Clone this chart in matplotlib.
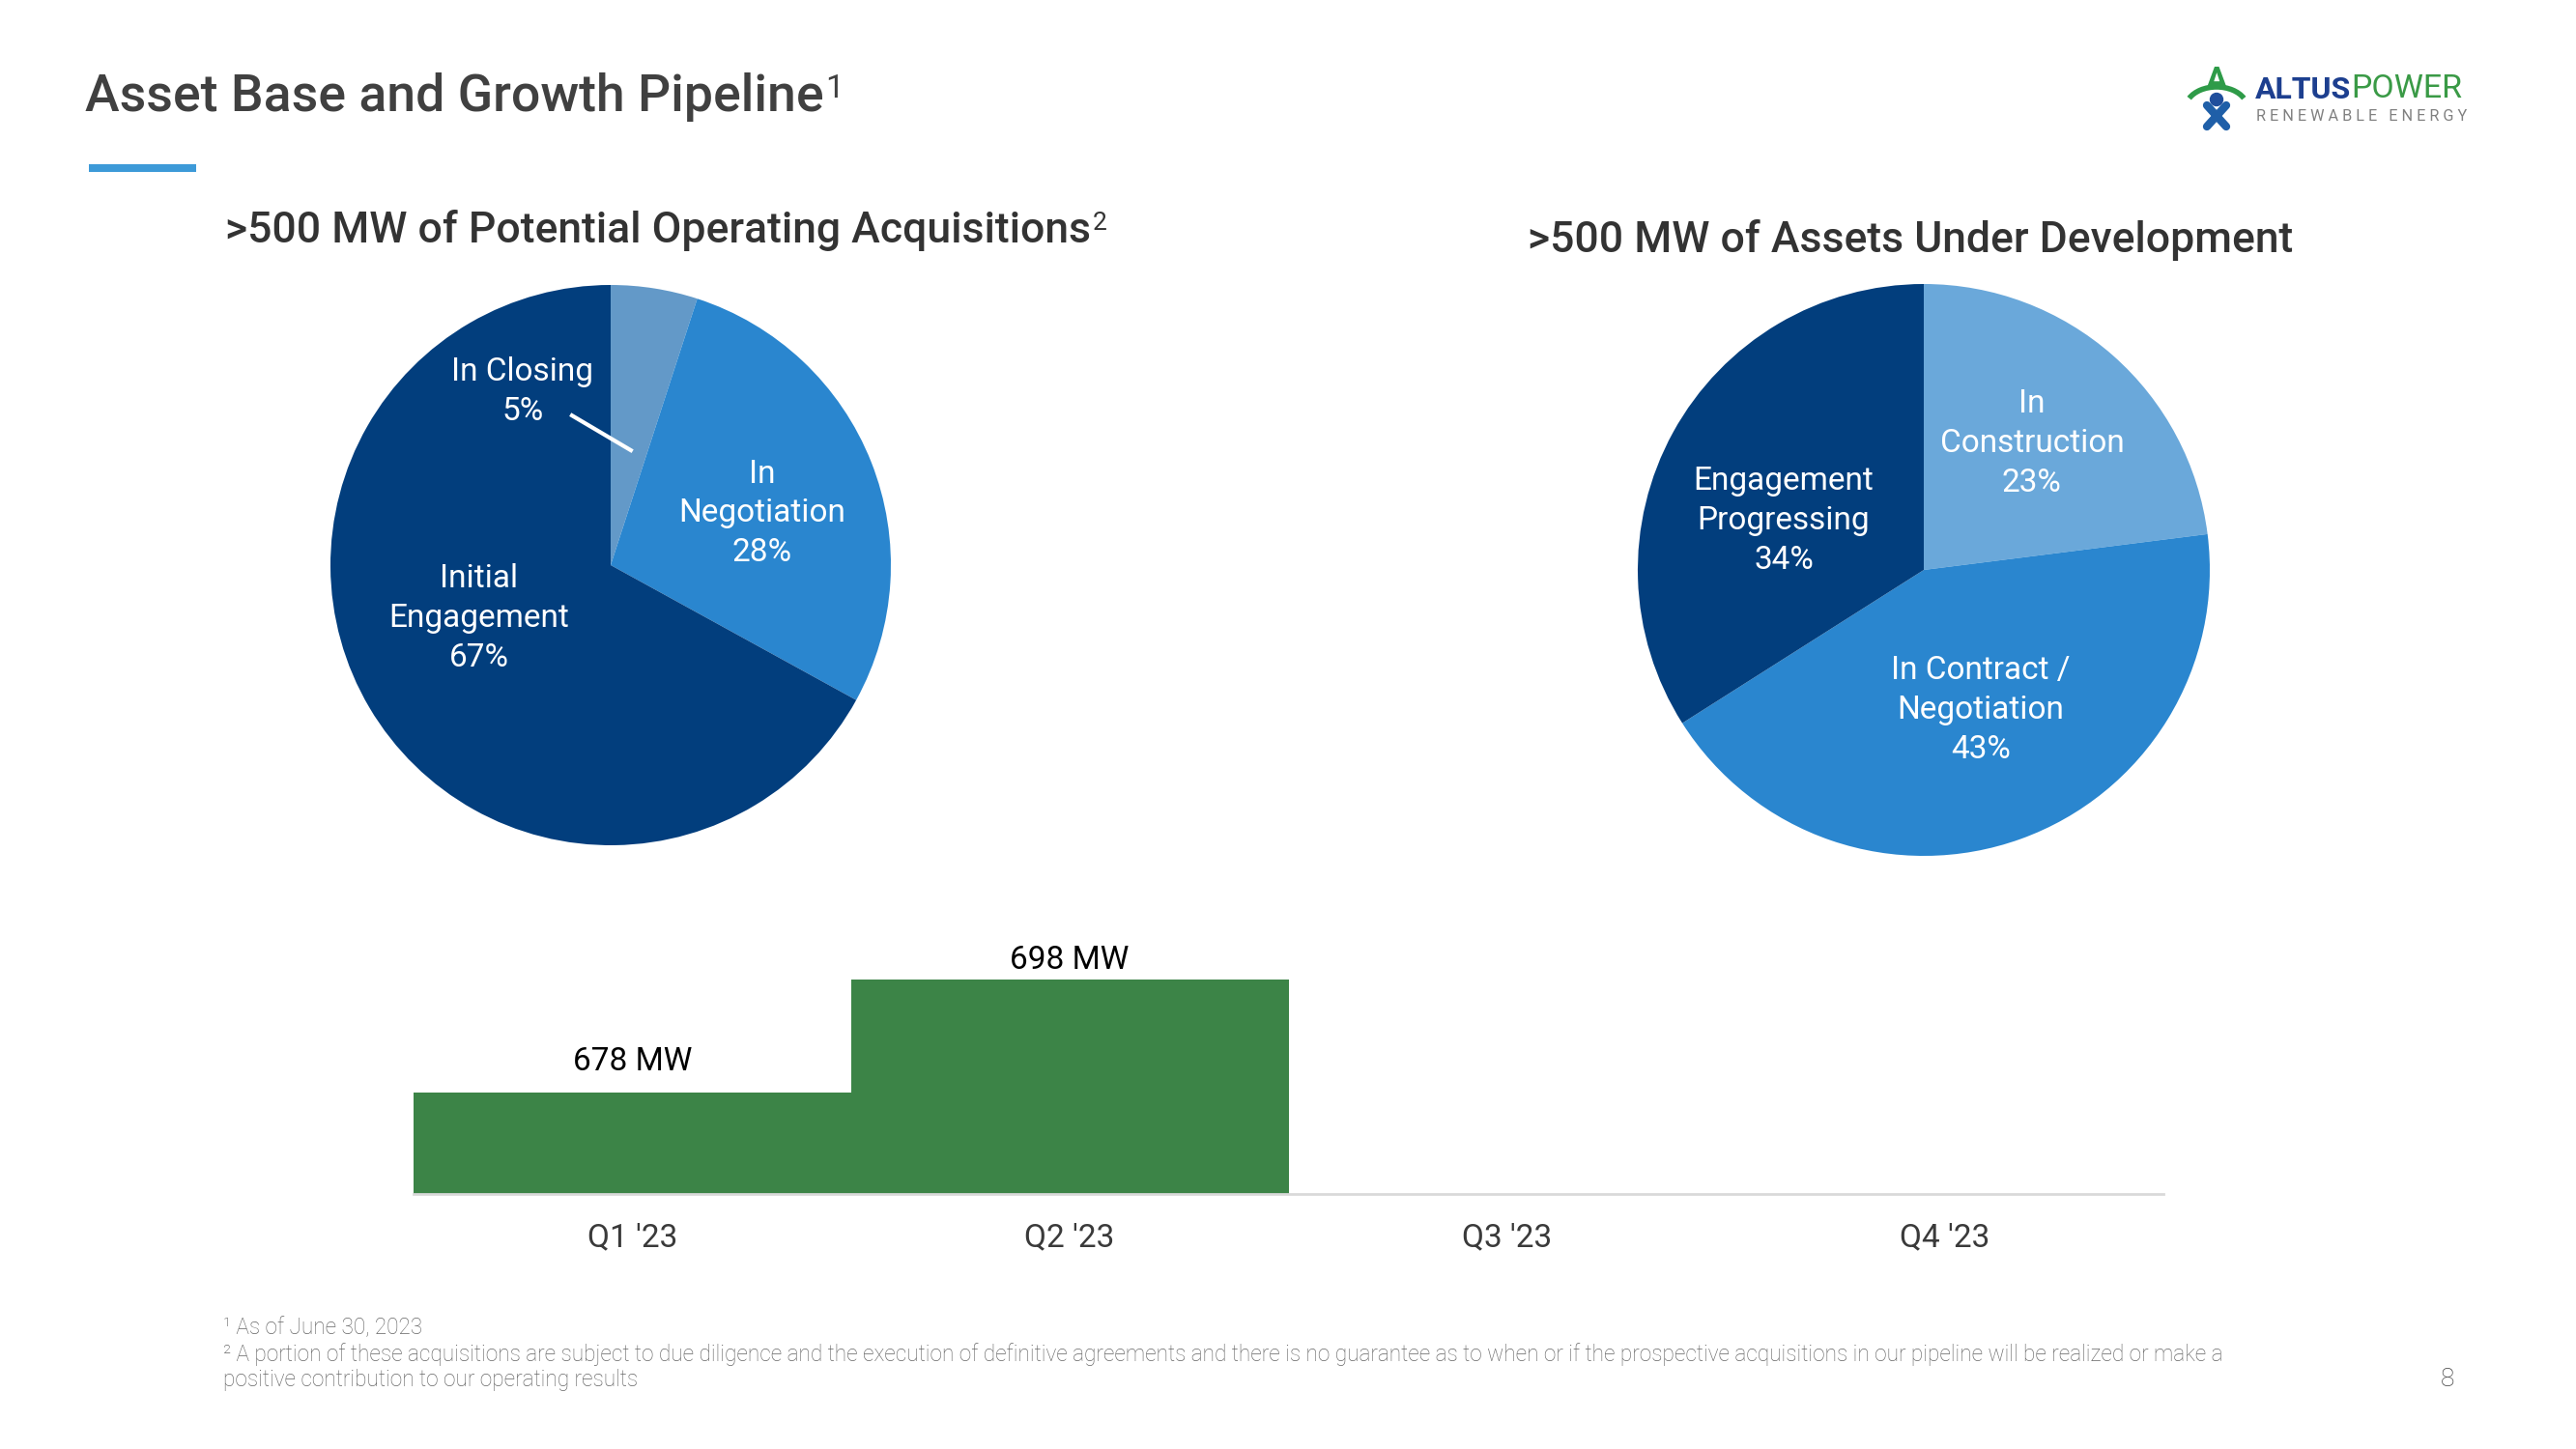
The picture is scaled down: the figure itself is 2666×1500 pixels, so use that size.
import numpy as np
import matplotlib.pyplot as plt
from matplotlib.patches import Circle, Arc, Rectangle

W, H = 2666, 1500

# data
acq_labels = ['In Closing', 'In\nNegotiation', 'Initial\nEngagement']
acq_share = [5, 28, 67]
dev_labels = ['In\nConstruction', 'In Contract /\nNegotiation', 'Engagement\nProgressing']
dev_share = [23, 43, 34]
quarters = ["Q1 '23", "Q2 '23", "Q3 '23", "Q4 '23"]
capacity_mw = [678, 698]

navy = '#023e7d'
mid = '#2a86cf'
green = '#3c8447'

plt.rcParams['font.family'] = ['Roboto', 'DejaVu Sans']

fig = plt.figure(figsize=(W / 100, H / 100), dpi=100)


def px_axes(x0, y0, x1, y1):
    # pixel box, origin top-left -> figure fractions
    return fig.add_axes([x0 / W, 1 - y1 / H, (x1 - x0) / W, (y1 - y0) / H])


def sup(txt, s, size, color, dx=2, dy=-4):
    # superscript glued to the end of a text
    return bg.annotate(s, xy=(1, 1), xycoords=txt, xytext=(dx, dy), textcoords='offset points',
                       ha='left', va='top', fontsize=size, color=color)


bg = px_axes(0, 0, W, H)
bg.set_xlim(0, W)
bg.set_ylim(H, 0)
bg.axis('off')

# header
t = bg.text(88, 115, 'Asset Base and Growth Pipeline', fontsize=38.5, fontweight='medium',
            color='#404040', va='baseline', ha='left')
sup(t, '1', 24, '#404040', dx=1, dy=-1)
bg.add_patch(Rectangle((92, 170), 111, 8, color='#3d9ad8', lw=0))

# logo
bg.text(2294, 93, 'A', fontsize=24, fontweight='bold', color='#2e9b48', ha='center', va='baseline')
bg.add_patch(Arc((2294, 112), 64, 44, theta1=200, theta2=340, color='#2e9b48', lw=4))
bg.add_patch(Circle((2294, 103), 6.5, color='#1f4e9c'))
bg.plot([2284, 2304], [109, 131], color='#1f5fa8', lw=6, solid_capstyle='round')
bg.plot([2304, 2284], [109, 131], color='#1f5fa8', lw=6, solid_capstyle='round')
la = bg.text(2334, 102, 'ALTUS', fontsize=23, fontweight='bold', color='#1d3f8f', va='baseline')
bg.annotate('POWER', xy=(1, 0), xycoords=la, xytext=(0, 0), textcoords='offset points',
            ha='left', va='bottom', fontsize=24.5, color='#3a9a46')
bg.text(2335, 125, 'R E N E W A B L E   E N E R G Y', fontsize=11.7, color='#808080', va='baseline')

# pie titles
t1 = bg.text(233, 238, '>500 MW of Potential Operating Acquisitions', fontsize=32, fontweight='medium',
             color='#333333', va='center', ha='left')
sup(t1, '2', 19, '#333333', dx=1, dy=-2)
bg.text(1581, 249, '>500 MW of Assets Under Development', fontsize=32, fontweight='medium',
        color='#333333', va='center', ha='left')

# left pie
ax1 = px_axes(632 - 290, 585 - 290, 632 + 290, 585 + 290)
ax1.pie(acq_share, colors=['#6399c8', mid, navy], startangle=90, counterclock=False,
        wedgeprops=dict(linewidth=0))
ax1.set_xlim(-1, 1)
ax1.set_ylim(-1, 1)
pos1 = [(-0.314, 0.618), (0.541, 0.185), (-0.469, -0.19)]
for lab, v, (px, py) in zip(acq_labels, acq_share, pos1):
    ax1.text(px, py, f'{lab}\n{v}%', ha='center', va='center', color='white',
             fontsize=24, linespacing=1.35)
ax1.plot([-0.138, 0.072], [0.534, 0.41], color='white', lw=3)

# right pie
ax2 = px_axes(1991 - 296, 590 - 296, 1991 + 296, 590 + 296)
ax2.pie(dev_share, colors=['#6aa8da', mid, navy], startangle=90, counterclock=False,
        wedgeprops=dict(linewidth=0))
ax2.set_xlim(-1, 1)
ax2.set_ylim(-1, 1)
pos2 = [(0.378, 0.443), (0.199, -0.49), (-0.49, 0.173)]
for lab, v, (px, py) in zip(dev_labels, dev_share, pos2):
    ax2.text(px, py, f'{lab}\n{v}%', ha='center', va='center', color='white',
             fontsize=24, linespacing=1.35)

# bar chart
axb = px_axes(428, 1236 - 292.5, 2239, 1236)
x = np.arange(len(quarters))
axb.bar(x[:len(capacity_mw)], capacity_mw, width=1.0, color=green, linewidth=0)
axb.set_xlim(-0.5, len(quarters) - 0.5)
axb.set_ylim(660, 710)
for sp in ['top', 'right', 'left']:
    axb.spines[sp].set_visible(False)
axb.spines['bottom'].set_color('#d9d9d9')
axb.spines['bottom'].set_linewidth(2)
axb.set_yticks([])
axb.set_xticks(x)
axb.set_xticklabels(quarters, fontsize=24, fontweight='normal', color='#3a3a3a')
axb.tick_params(axis='x', length=0, pad=21)
axb.patch.set_alpha(0)
label_pad = [23, 14]  # points above bar top to label centre
for i, v in enumerate(capacity_mw):
    axb.annotate(f'{v} MW', (i, v), xytext=(0, label_pad[i]), textcoords='offset points',
                 ha='center', va='center', fontsize=24, color='black')

# footnotes
fn = dict(fontsize=16.3, fontweight='light', color='#666666', ha='left', va='center')
bg.text(231, 1375, '\u00b9 As of June 30, 2023', **fn)
bg.text(231, 1402, '\u00b2 A portion of these acquisitions are subject to due diligence and the execution of '
        'definitive agreements and there is no guarantee as to when or if the prospective acquisitions '
        'in our pipeline will be realized or make a', **fn)
bg.text(231, 1429, 'positive contribution to our operating results', **fn)
bg.text(2533, 1428, '8', fontsize=19, fontweight='light', color='#404040', ha='center', va='center')

fig.savefig('out.png', dpi=100)
